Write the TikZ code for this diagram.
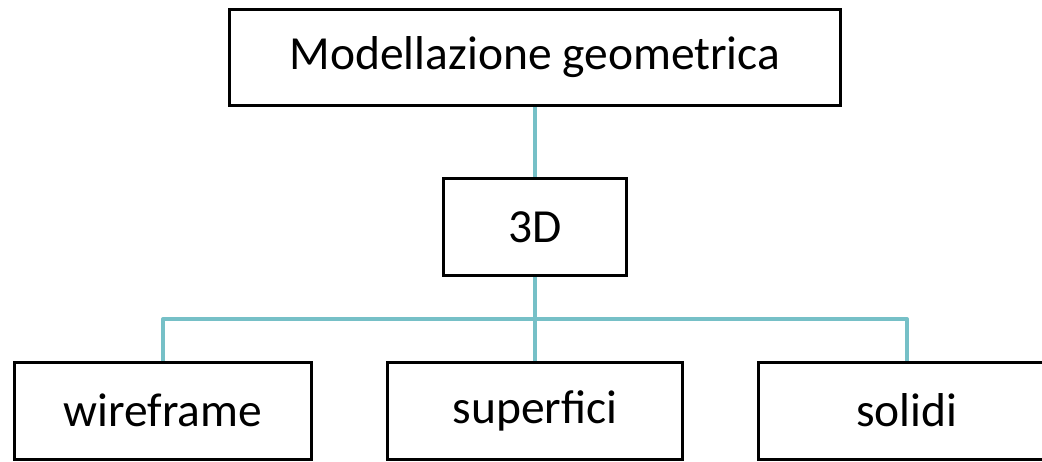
\documentclass[tikz,border=0pt]{standalone}
\usepackage{fontspec}
\setmainfont{Carlito}
\definecolor{linkteal}{RGB}{118,192,199}
\tikzset{
    box/.style={draw=black, line width=3pt, fill=white, inner sep=0pt,
        font=\fontsize{47.5}{57}\selectfont},
    link/.style={draw=linkteal, line width=4pt, line join=round}
}
\begin{document}
\begin{tikzpicture}[x=1pt, y=-1pt]

    \useasboundingbox (0, 0) rectangle (1042, 461);
    \clip (0, 0) rectangle (1042, 461);

    % Root
    \node[box, minimum width=611pt, minimum height=96pt] (root) at (535, 57.5) {Modellazione geometrica};

    % Level 1
    \node[box, minimum width=183pt, minimum height=97pt] (dim) at (535, 227) {3D};

    % Level 2
    \node[box, minimum width=297pt, minimum height=97pt] (wire) at (163, 410.5) {wireframe};
    \node[box, minimum width=295pt, minimum height=97pt] (surf) at (535, 410.5) {superfici};
    \node[box, minimum width=297pt, minimum height=97pt] (solid) at (907, 410.5) {solidi};

    \coordinate (bar) at (535, 319);

    % Links
    \draw[link] (root.south) -- (dim.north);
    \draw[link] (dim.south) -- (surf.north);
    \draw[link] (wire.north) |- (bar) -| (solid.north);

\end{tikzpicture}
\end{document}
